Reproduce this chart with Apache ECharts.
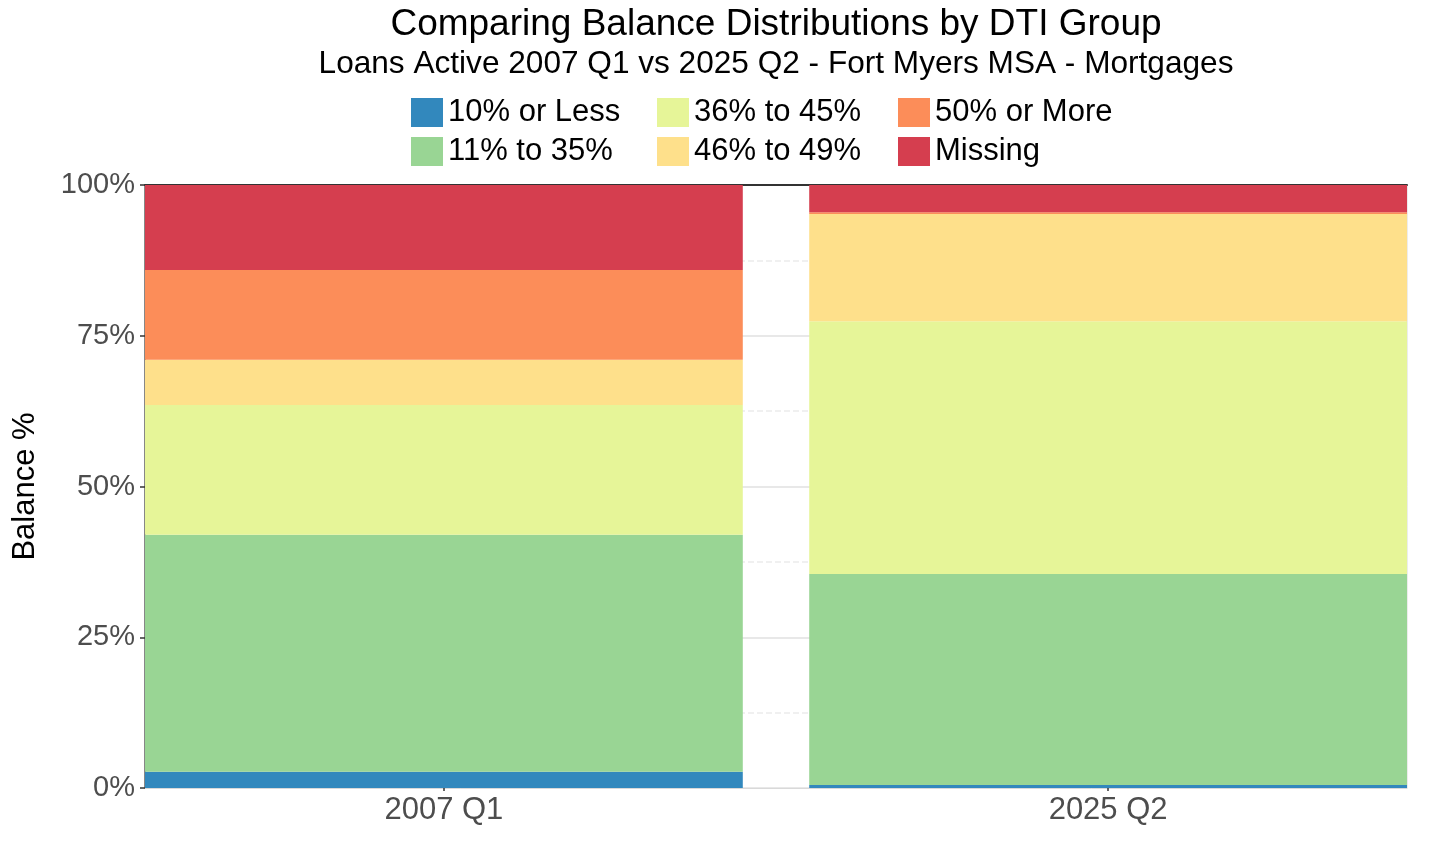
<!DOCTYPE html>
<html>
<head>
<meta charset="utf-8">
<script src="https://cdn.jsdelivr.net/npm/echarts@6/dist/echarts.min.js"></script>
<style>
  html, body { margin: 0; padding: 0; background: #fff; }
  #chart { width: 1431px; height: 858px; }
</style>
</head>
<body>
<div id="chart"></div>
<script>
const periods = ["2007 Q1", "2025 Q2"];
const groups = ["10% or Less", "11% to 35%", "36% to 45%", "46% to 49%", "50% or More", "Missing"];
const colors = ["#3288bd", "#99d594", "#e6f598", "#fee08b", "#fc8d59", "#d53e4f"];
// balance share (%) per group, one value per period
const lessThan10 = [2.7, 0.5];
const from11to35 = [39.3, 35.0];
const from36to45 = [21.5, 41.9];
const from46to49 = [7.5, 17.8];
const over50 = [14.9, 0.3];
const missing = [14.1, 4.5];
const values = [lessThan10, from11to35, from36to45, from46to49, over50, missing];
const yTicks = [0, 25, 50, 75, 100];

const chart = echarts.init(document.getElementById("chart"));
const font = "'Liberation Sans', Arial, sans-serif";

// panel spans x 0.55..2.45 (bars 0.9 wide, no expansion)
const panelLeft = 145, panelRight = 24, panelTop = 185, panelBottom = 70;
const panelW = 1431 - panelLeft - panelRight;
const unit = panelW / 1.9;

const legendCol = (left, names) => ({
  orient: "vertical",
  left: left,
  top: 97,
  padding: 0,
  itemWidth: 32,
  itemHeight: 29,
  itemGap: 8,
  icon: "rect",
  selectedMode: false,
  data: names,
  textStyle: { fontFamily: font, fontSize: 31, color: "#000" },
});

chart.setOption({
  animation: false,
  title: [
    {
      text: "Comparing Balance Distributions by DTI Group",
      left: 776, top: 6, textAlign: "center", padding: 0,
      textStyle: { fontFamily: font, fontSize: 37, fontWeight: "normal", color: "#000" },
    },
    {
      text: "Loans Active 2007 Q1 vs 2025 Q2 - Fort Myers MSA - Mortgages",
      left: 776, top: 48, textAlign: "center", padding: 0,
      textStyle: { fontFamily: font, fontSize: 31.6, fontWeight: "normal", color: "#000" },
    },
  ],
  legend: [
    legendCol(411, groups.slice(0, 2)),
    legendCol(657, groups.slice(2, 4)),
    legendCol(898, groups.slice(4, 6)),
  ],
  grid: [
    {
      // bars: the two category points sit at the bar centres (x = 1 and x = 2)
      left: panelLeft + 0.45 * unit, width: unit, top: panelTop, bottom: panelBottom,
    },
    {
      left: panelLeft, right: panelRight, top: panelTop, bottom: panelBottom,
      show: true, borderColor: "#d9d9d9", borderWidth: 1, backgroundColor: "transparent",
    },
  ],
  xAxis: [
    {
      type: "category",
      gridIndex: 0,
      data: periods,
      boundaryGap: false,
      show: false,
    },
    {
      type: "value",
      gridIndex: 1,
      min: 0.55,
      max: 2.45,
      axisLine: { show: true, lineStyle: { color: "#d9d9d9", width: 1 } },
      axisTick: { show: true, customValues: [1, 2], length: 3, lineStyle: { color: "#333", width: 1.5 } },
      axisLabel: {
        customValues: [1, 2],
        formatter: (v) => periods[Math.round(v) - 1] || "",
        fontFamily: font, fontSize: 31, color: "#4d4d4d", margin: 7,
      },
      splitLine: { show: false },
    },
    {
      type: "value",
      gridIndex: 1,
      position: "top",
      min: 0.55,
      max: 2.45,
      axisLine: { show: true, lineStyle: { color: "#333", width: 2 } },
      axisTick: { show: false },
      axisLabel: { show: false },
      splitLine: { show: false },
    },
  ],
  yAxis: [
    {
      type: "value",
      gridIndex: 0,
      min: 0,
      max: 100,
      show: false,
      splitLine: { show: false },
    },
    {
      type: "value",
      gridIndex: 1,
      min: 0,
      max: 100,
      interval: 25,
      name: "Balance %",
      nameLocation: "middle",
      nameGap: 104,
      nameTextStyle: { fontFamily: font, fontSize: 31, color: "#000" },
      axisLine: { show: true, lineStyle: { color: "#666", width: 1.5 } },
      axisTick: { show: true, length: 5, lineStyle: { color: "#333", width: 1.5 } },
      axisLabel: {
        formatter: (v) => (yTicks.includes(v) ? v + "%" : ""),
        fontFamily: font, fontSize: 29, color: "#4d4d4d", margin: 10,
      },
      splitLine: { show: true, lineStyle: { color: "#e8e8e8", width: 2 } },
      minorTick: { show: false, splitNumber: 2 },
      minorSplitLine: { show: true, lineStyle: { color: "#ececec", width: 1.5, type: "dashed" } },
    },
  ],
  series: groups.map((name, i) => ({
    name: name,
    type: "bar",
    stack: "dti",
    xAxisIndex: 0,
    yAxisIndex: 0,
    barWidth: "90%",
    clip: false,
    itemStyle: { color: colors[i] },
    data: values[i],
  })),
});
</script>
</body>
</html>
